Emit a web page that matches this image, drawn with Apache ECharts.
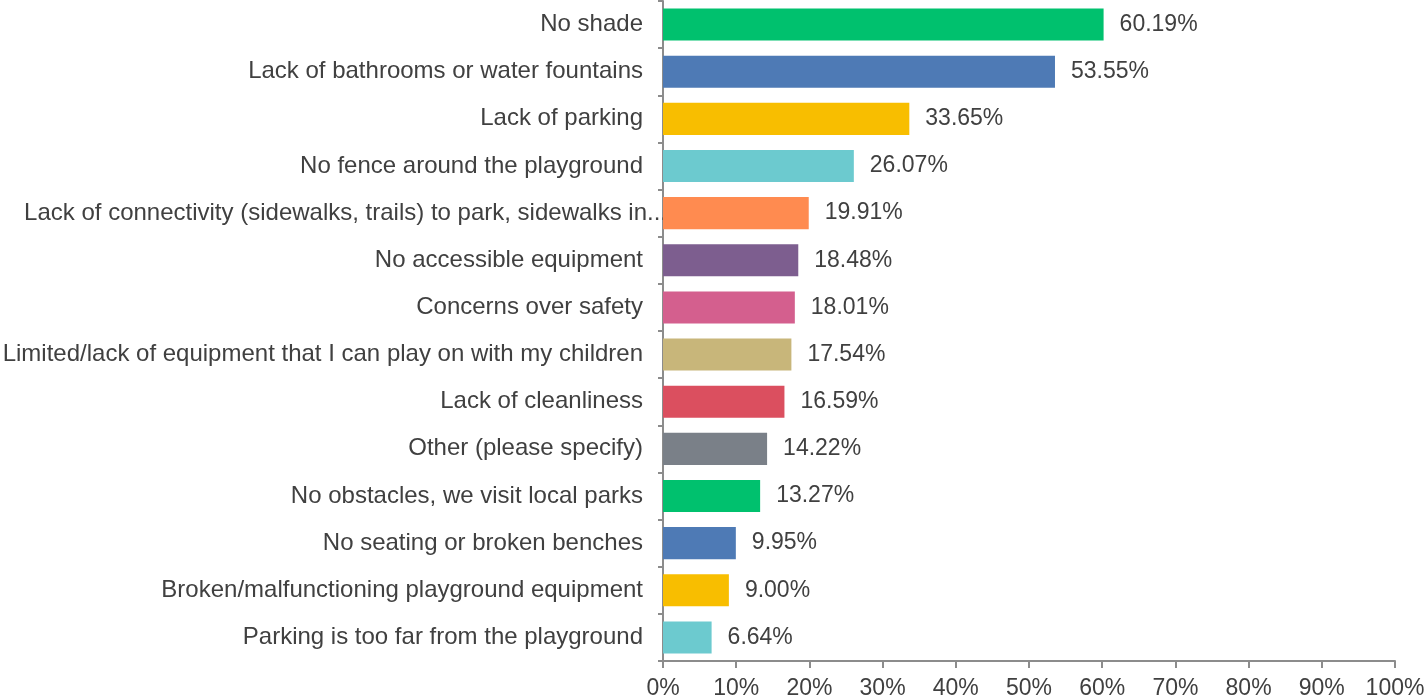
<!DOCTYPE html>
<html>
<head>
<meta charset="utf-8">
<script src="https://cdn.jsdelivr.net/npm/echarts@6/dist/echarts.min.js"></script>
<style>
  html, body { margin: 0; padding: 0; background: #fff; }
  #chart { width: 1425px; height: 699px; }
</style>
</head>
<body>
<div id="chart"></div>
<script>
// categories, top to bottom
const categories = [
  'No shade',
  'Lack of bathrooms or water fountains',
  'Lack of parking',
  'No fence around the playground',
  'Lack of connectivity (sidewalks, trails) to park, sidewalks in...',
  'No accessible equipment',
  'Concerns over safety',
  'Limited/lack of equipment that I can play on with my children',
  'Lack of cleanliness',
  'Other (please specify)',
  'No obstacles, we visit local parks',
  'No seating or broken benches',
  'Broken/malfunctioning playground equipment',
  'Parking is too far from the playground'
]
const percents = [60.19, 53.55, 33.65, 26.07, 19.91, 18.48, 18.01, 17.54, 16.59, 14.22, 13.27, 9.95, 9.00, 6.64]
const barColors = ['#00c16e', '#4e7ab5', '#f8be00', '#6ccacf', '#ff8b50', '#7d5e8f', '#d45f8e', '#c8b67a', '#db4f5f', '#7a8088', '#00c16e', '#4e7ab5', '#f8be00', '#6ccacf']
const xTicks = [0, 10, 20, 30, 40, 50, 60, 70, 80, 90, 100]

const chart = echarts.init(document.getElementById('chart'))
const textColor = '#404040'
const axisColor = '#8c8c8c'

// the truncated label runs past the axis like in the source picture
const yData = categories.map(c => c.endsWith('...')
  ? { value: c, textStyle: { padding: [0, -24, 0, 0] } }
  : c)

const option = {
  animation: false,
  textStyle: { fontFamily: 'Liberation Sans, Arial, sans-serif' },
  grid: {
    left: 663,
    right: 30,
    top: 1,
    bottom: 38,
    containLabel: false,
    outerBoundsMode: 'none'
  },
  xAxis: {
    type: 'value',
    min: xTicks[0],
    max: xTicks[xTicks.length - 1],
    interval: 10,
    axisLine: { show: true, lineStyle: { color: axisColor, width: 2 } },
    axisTick: { show: true, length: 7, lineStyle: { color: axisColor, width: 2 } },
    splitLine: { show: false },
    axisLabel: {
      color: textColor,
      fontSize: 23,
      margin: 16,
      formatter: v => v + '%'
    }
  },
  yAxis: {
    type: 'category',
    inverse: true,
    data: yData,
    axisLine: { show: true, lineStyle: { color: axisColor, width: 2 } },
    axisTick: { show: true, length: 5, interval: 0, lineStyle: { color: axisColor, width: 2 } },
    axisLabel: {
      color: textColor,
      fontSize: 24,
      margin: 20,
      interval: 0
    }
  },
  series: [
    {
      type: 'bar',
      data: percents.map((v, i) => ({ value: v, itemStyle: { color: barColors[i] } })),
      barCategoryGap: '32%',
      label: {
        show: true,
        position: 'right',
        distance: 16,
        color: textColor,
        fontSize: 23,
        formatter: p => p.value.toFixed(2) + '%'
      }
    }
  ]
}

chart.setOption(option)
</script>
</body>
</html>
